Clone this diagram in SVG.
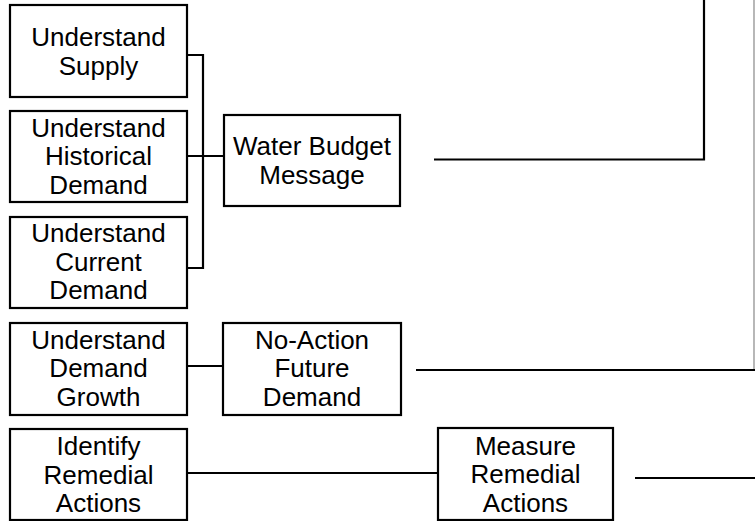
<svg xmlns="http://www.w3.org/2000/svg" width="755" height="521" viewBox="0 0 755 521">
<style>
.box{fill:#fff;stroke:#000;stroke-width:2.2}
.t{font-family:"Liberation Sans",Arial,sans-serif;font-size:26px;fill:#000;text-anchor:middle}
.c{fill:none;stroke:#000;stroke-width:2.2}
.g{fill:none;stroke:#888;stroke-width:1.2}
</style>
<rect width="755" height="521" fill="#fff"/>
<g id="connectors">
<polyline class="c" points="187,55 203,55 203,268 187,268"/>
<line class="c" x1="187" y1="156" x2="224" y2="156"/>
<polyline class="c" points="434,159.5 704,159.5 704,0"/>
<line class="g" x1="754" y1="0" x2="754" y2="370"/>
<line class="c" x1="416" y1="370" x2="755" y2="370"/>
<line class="c" x1="187" y1="366" x2="223" y2="366"/>
<line class="c" x1="187" y1="473" x2="438" y2="473"/>
<line class="c" x1="635" y1="478" x2="755" y2="478"/>
</g>
<g id="understand-supply">
<rect class="box" x="10" y="5" width="177" height="92"/>
<text class="t" x="98.5" y="46">Understand</text>
<text class="t" x="98.5" y="74.5">Supply</text>
</g>
<g id="understand-historical-demand">
<rect class="box" x="10" y="111" width="177" height="91"/>
<text class="t" x="98.5" y="136.5">Understand</text>
<text class="t" x="98.5" y="165">Historical</text>
<text class="t" x="98.5" y="193.5">Demand</text>
</g>
<g id="understand-current-demand">
<rect class="box" x="10" y="217" width="177" height="91"/>
<text class="t" x="98.5" y="242">Understand</text>
<text class="t" x="98.5" y="270.5">Current</text>
<text class="t" x="98.5" y="299">Demand</text>
</g>
<g id="water-budget-message">
<rect class="box" x="224" y="115" width="176" height="91"/>
<text class="t" x="312" y="155">Water Budget</text>
<text class="t" x="312" y="183.5">Message</text>
</g>
<g id="understand-demand-growth">
<rect class="box" x="10" y="323" width="177" height="92"/>
<text class="t" x="98.5" y="348.5">Understand</text>
<text class="t" x="98.5" y="377">Demand</text>
<text class="t" x="98.5" y="405.5">Growth</text>
</g>
<g id="no-action-future-demand">
<rect class="box" x="223" y="323" width="178" height="92"/>
<text class="t" x="312" y="348.5">No-Action</text>
<text class="t" x="312" y="377">Future</text>
<text class="t" x="312" y="405.5">Demand</text>
</g>
<g id="identify-remedial-actions">
<rect class="box" x="10" y="429" width="177" height="91"/>
<text class="t" x="98.5" y="455">Identify</text>
<text class="t" x="98.5" y="483.5">Remedial</text>
<text class="t" x="98.5" y="512">Actions</text>
</g>
<g id="measure-remedial-actions">
<rect class="box" x="438" y="428" width="175" height="92"/>
<text class="t" x="525.5" y="454.5">Measure</text>
<text class="t" x="525.5" y="483">Remedial</text>
<text class="t" x="525.5" y="511.5">Actions</text>
</g>
</svg>
